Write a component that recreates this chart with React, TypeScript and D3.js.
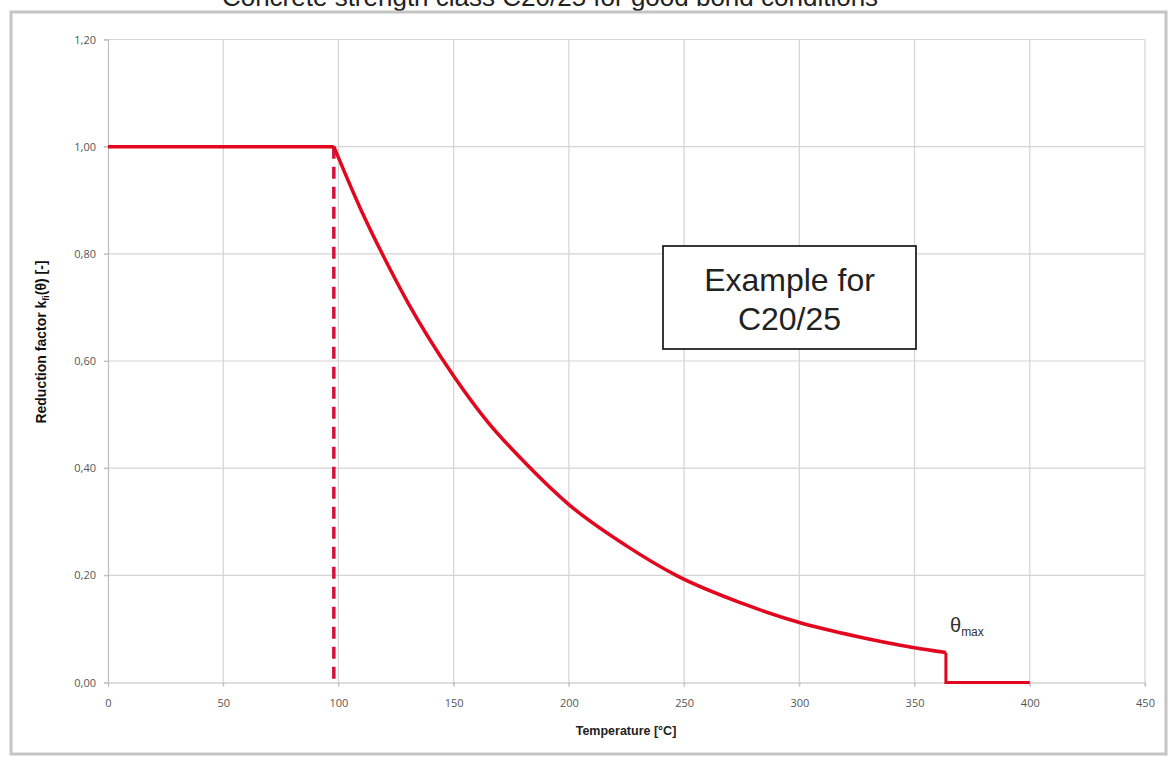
import React, { useEffect, useRef } from "react";
import * as d3 from "d3";

// values
const xTicks = [0, 50, 100, 150, 200, 250, 300, 350, 400, 450];
const yTicks = [0, 0.2, 0.4, 0.6, 0.8, 1.0, 1.2];

const thetaStart = 98; // end of the plateau
const thetaMax = 363.6;
const thetaEnd = 400;

const plateauTemps = [0, thetaStart];
const plateauK = [1, 1];

const curveTemps = [98, 110, 119, 130, 150, 165, 181, 200, 225, 247, 275, 300, 325, 350, 363.6];
const curveK = [1, 0.88, 0.8, 0.71, 0.572, 0.485, 0.41, 0.332, 0.255, 0.199, 0.148, 0.112, 0.086, 0.065, 0.056];

const tailTemps = [thetaMax, thetaMax, thetaEnd];
const tailK = [0.056, 0, 0];

const W = 1171;
const H = 757;

const App: React.FC = () => {
  const svgRef = useRef<SVGSVGElement>(null);

  useEffect(() => {
    if (!svgRef.current) return;
    const svg = d3.select(svgRef.current);
    svg.selectAll("*").remove();

    const x = d3.scaleLinear().domain([0, 450]).range([108, 1145]);
    const y = d3.scaleLinear().domain([0, 1.2]).range([682.5, 39.5]);

    svg.append("rect").attr("width", W).attr("height", H).attr("fill", "white");

    // title, cut off by the top edge as in the source picture
    svg
      .append("text")
      .attr("x", 550)
      .attr("y", 6)
      .attr("text-anchor", "middle")
      .style("font-family", "Liberation Sans, Arial, sans-serif")
      .style("font-size", "26px")
      .attr("fill", "#222")
      .text("Concrete strength class C20/25 for good bond conditions");

    // outer frame
    svg
      .append("rect")
      .attr("x", 11)
      .attr("y", 12)
      .attr("width", 1155)
      .attr("height", 742)
      .attr("fill", "none")
      .attr("stroke", "#c4c4c4")
      .attr("stroke-width", 3);

    // gridlines
    const grid = svg.append("g");
    grid
      .selectAll("line.v")
      .data(xTicks.slice(1))
      .join("line")
      .attr("x1", (d) => x(d))
      .attr("x2", (d) => x(d))
      .attr("y1", y(1.2))
      .attr("y2", y(0) + 4)
      .attr("stroke", "#d4d4d4")
      .attr("stroke-width", 1.2);
    grid
      .selectAll("line.h")
      .data(yTicks.slice(1))
      .join("line")
      .attr("x1", x(0) - 4)
      .attr("x2", x(450))
      .attr("y1", (d) => y(d))
      .attr("y2", (d) => y(d))
      .attr("stroke", "#d4d4d4")
      .attr("stroke-width", 1.2);

    // axes
    const fmt = (v: number) => v.toFixed(2).replace(".", ",");
    const yAxis = svg
      .append("g")
      .attr("transform", `translate(${x(0)},0)`)
      .call(d3.axisLeft(y).tickValues(yTicks).tickFormat((d) => fmt(+d)).tickSize(4).tickPadding(8));
    const xAxis = svg
      .append("g")
      .attr("transform", `translate(0,${y(0)})`)
      .call(d3.axisBottom(x).tickValues(xTicks).tickSize(4).tickPadding(13));
    [yAxis, xAxis].forEach((g) => {
      g.select(".domain").attr("stroke", "#bdbdbd").attr("stroke-width", 1.2);
      g.selectAll(".tick line").attr("stroke", "#bdbdbd");
      g.selectAll(".tick text")
        .attr("fill", "#555")
        .style("font-family", "Liberation Sans Narrow, Open Sans, sans-serif")
        .style("font-size", "11px");
    });

    // axis titles
    svg
      .append("text")
      .attr("x", 626)
      .attr("y", 735)
      .attr("text-anchor", "middle")
      .style("font-family", "Liberation Sans, Arial, sans-serif")
      .style("font-weight", "bold")
      .style("font-size", "12.5px")
      .attr("fill", "#222")
      .text("Temperature [°C]");

    const yt = svg
      .append("text")
      .attr("transform", "translate(46,342) rotate(-90)")
      .attr("text-anchor", "middle")
      .style("font-family", "Liberation Sans, Arial, sans-serif")
      .style("font-weight", "bold")
      .style("font-size", "14px")
      .attr("fill", "#111");
    yt.append("tspan").text("Reduction factor k");
    yt.append("tspan").attr("dy", 3).style("font-size", "9px").text("fi");
    yt.append("tspan").attr("dy", -3).text("(θ) [-]");

    // dashed vertical at end of plateau
    svg
      .append("line")
      .attr("x1", x(thetaStart))
      .attr("x2", x(thetaStart))
      .attr("y1", y(1))
      .attr("y2", y(0))
      .attr("stroke", "#d4103c")
      .attr("stroke-width", 3.5)
      .attr("stroke-dasharray", "12,8");

    const red = "#e2061e";

    svg
      .append("path")
      .attr("d", d3.line<number>().x((d) => x(d)).y((d, i) => y(plateauK[i]))(plateauTemps))
      .attr("fill", "none")
      .attr("stroke", red)
      .attr("stroke-width", 3.5);

    const smooth = d3
      .line<number>()
      .x((d) => x(d))
      .y((d, i) => y(curveK[i]))
      .curve(d3.curveMonotoneX);
    svg
      .append("path")
      .attr("d", smooth(curveTemps))
      .attr("fill", "none")
      .attr("stroke", red)
      .attr("stroke-width", 3.5);

    svg
      .append("path")
      .attr("d", d3.line<number>().x((d) => x(d)).y((d, i) => y(tailK[i]))(tailTemps))
      .attr("fill", "none")
      .attr("stroke", red)
      .attr("stroke-width", 3);

    // theta max label
    const tm = svg
      .append("text")
      .attr("x", 950)
      .attr("y", 632)
      .style("font-family", "Liberation Sans, Arial, sans-serif")
      .attr("fill", "#333");
    tm.append("tspan").style("font-size", "20px").text("θ");
    tm.append("tspan").attr("dy", 4).style("font-size", "12px").text("max");

    // annotation box
    svg
      .append("rect")
      .attr("x", 663)
      .attr("y", 246)
      .attr("width", 253)
      .attr("height", 103)
      .attr("fill", "white")
      .attr("stroke", "#222")
      .attr("stroke-width", 1.8);
    const ann = svg
      .append("text")
      .attr("text-anchor", "middle")
      .style("font-family", "Liberation Sans, Arial, sans-serif")
      .style("font-size", "32px")
      .attr("fill", "#222");
    ann.append("tspan").attr("x", 789.5).attr("y", 291).text("Example for");
    ann.append("tspan").attr("x", 789.5).attr("y", 330).text("C20/25");
  }, []);

  return (
    <svg
      ref={svgRef}
      width={W}
      height={H}
      style={{ position: "absolute", left: 0, top: 0, display: "block" }}
    />
  );
};

export default App;
